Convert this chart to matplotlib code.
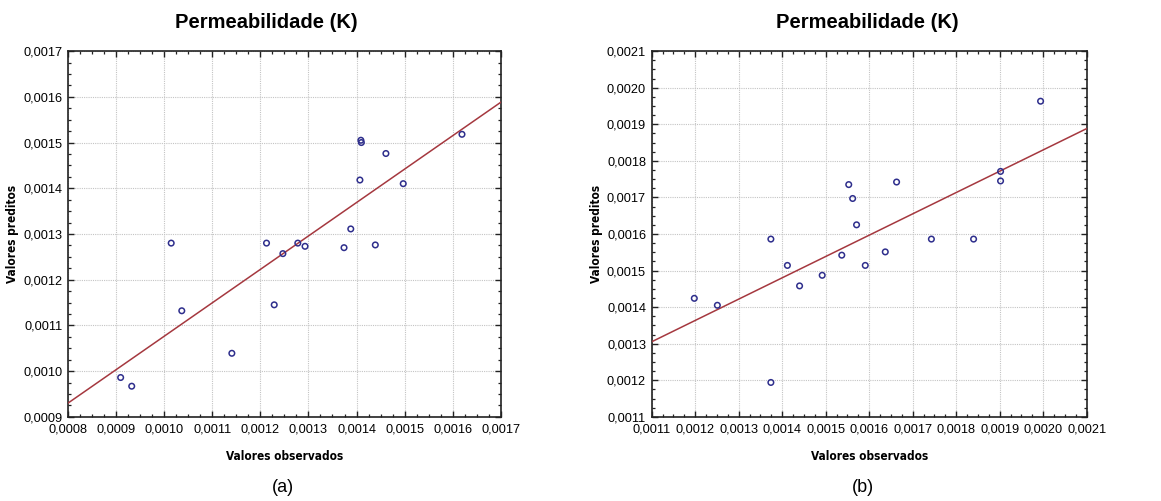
import numpy as np
import matplotlib
matplotlib.use("Agg")
import matplotlib.pyplot as plt
from matplotlib.ticker import MultipleLocator, FuncFormatter, AutoMinorLocator

# (a) observed vs predicted permeability
obs_a = [0.001015, 0.001213, 0.001278, 0.001293, 0.001374, 0.001388, 0.001439,
         0.001407, 0.001409, 0.001410, 0.001461, 0.001497, 0.001619, 0.001247,
         0.001037, 0.001229, 0.001141, 0.000910, 0.000933]
pred_a = [0.001280, 0.001280, 0.001280, 0.001273, 0.001270, 0.001311, 0.001276,
          0.001418, 0.001505, 0.001500, 0.001476, 0.001410, 0.001518, 0.001257,
          0.001132, 0.001145, 0.001039, 0.000986, 0.000967]

# (b) observed vs predicted permeability
obs_b = [0.001374, 0.001553, 0.001562, 0.001571, 0.001663, 0.001743, 0.001840,
         0.001902, 0.001902, 0.001994, 0.001198, 0.001251, 0.001374, 0.001412,
         0.001440, 0.001492, 0.001537, 0.001591, 0.001637]
pred_b = [0.001586, 0.001735, 0.001697, 0.001625, 0.001742, 0.001586, 0.001586,
          0.001771, 0.001745, 0.001963, 0.001424, 0.001405, 0.001194, 0.001514,
          0.001458, 0.001487, 0.001542, 0.001514, 0.001551]

limits_a = (0.0008, 0.0017, 0.0009, 0.0017)
limits_b = (0.0011, 0.0021, 0.0011, 0.0021)

title = "Permeabilidade (K)"
xlabel = "Valores observados"
ylabel = "Valores preditos"
panel_tags = ["(a)", "(b)"]

plt.rcParams["font.family"] = ["Liberation Sans", "DejaVu Sans"]

fig = plt.figure(figsize=(11.61, 5.01), dpi=100)
ax_a = fig.add_axes([0.0583, 0.168, 0.3732, 0.730])
ax_b = fig.add_axes([0.5613, 0.168, 0.3747, 0.730])

comma = FuncFormatter(lambda v, p: f"{v:.4f}".replace(".", ","))


def draw(ax, obs, pred, lim):
    x0, x1, y0, y1 = lim
    obs = np.asarray(obs)
    pred = np.asarray(pred)
    slope, icpt = np.polyfit(obs, pred, 1)
    xs = np.array([x0, x1])
    ax.plot(xs, slope * xs + icpt, color="#a5383f", lw=1.1, zorder=3)
    ax.scatter(obs, pred, s=16, facecolors="none", edgecolors="#2e2e8c",
               linewidths=1.1, zorder=4)
    ax.set_xlim(x0, x1)
    ax.set_ylim(y0, y1)
    ax.xaxis.set_major_locator(MultipleLocator(0.0001))
    ax.yaxis.set_major_locator(MultipleLocator(0.0001))
    ax.xaxis.set_minor_locator(AutoMinorLocator(4))
    ax.yaxis.set_minor_locator(AutoMinorLocator(4))
    ax.xaxis.set_major_formatter(comma)
    ax.yaxis.set_major_formatter(comma)
    ax.grid(True, which="major", color="#c4c4c4", lw=0.8, linestyle=(0, (1, 1)))
    ax.tick_params(which="both", direction="in", top=True, right=True,
                   labelsize=9.2, color="#222222")
    ax.tick_params(axis="x", pad=5)
    ax.tick_params(axis="y", pad=4)
    ax.tick_params(which="major", length=4, width=1)
    ax.tick_params(which="minor", length=2.5, width=0.9)
    for s in ax.spines.values():
        s.set_color("#222222")
        s.set_linewidth(1.2)
    ax.set_xlabel(xlabel, family="DejaVu Sans", stretch="condensed",
                  fontweight="bold", fontsize=8.5, labelpad=10)
    ax.set_ylabel(ylabel, family="DejaVu Sans", stretch="condensed",
                  fontweight="bold", fontsize=8.5, labelpad=3)


draw(ax_a, obs_a, pred_a, limits_a)
draw(ax_b, obs_b, pred_b, limits_b)

fig.text(266 / 1161, 1 - 23 / 501, title, ha="center", va="center",
         fontsize=14.5, fontweight="bold")
fig.text(867 / 1161, 1 - 23 / 501, title, ha="center", va="center",
         fontsize=14.5, fontweight="bold")
fig.text(283 / 1161, 1 - 488 / 501, panel_tags[0], ha="center", va="center",
         fontsize=13)
fig.text(863 / 1161, 1 - 488 / 501, panel_tags[1], ha="center", va="center",
         fontsize=13)

fig.savefig("out.png", dpi=100, facecolor="white")
